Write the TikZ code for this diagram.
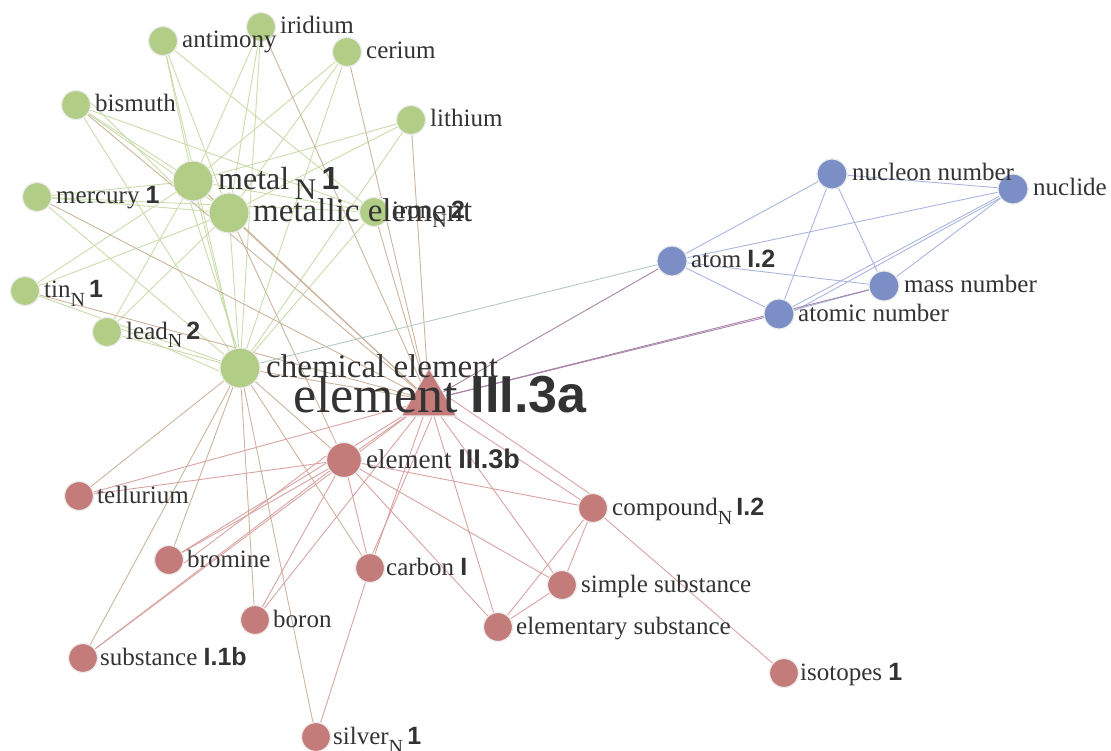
\documentclass[tikz,border=0pt]{standalone}
\usepackage{fontspec}
\setmainfont{Liberation Serif}
\setsansfont{Liberation Sans}
\usetikzlibrary{shapes.geometric,backgrounds}
\definecolor{gfill}{HTML}{B2CD86}
\definecolor{rfill}{HTML}{C47C7A}
\definecolor{bfill}{HTML}{7B8FC6}
\definecolor{gg}{HTML}{C9DCAA}
\definecolor{rr}{HTML}{D9A3A1}
\definecolor{bb}{HTML}{A9B5E0}
\definecolor{gr}{HTML}{CDB49C}
\definecolor{rb}{HTML}{A883A8}
\definecolor{gb}{HTML}{B5C8C8}
\definecolor{txt}{HTML}{333333}
\newcommand{\bnum}[1]{\textsf{\bfseries #1}}
\newcommand{\subN}[1]{\raisebox{-9pt}{\fontsize{#1}{#1}\selectfont N}}
\tikzset{
  nd/.style={circle, inner sep=0pt, draw=black!8, line width=1.2pt},
  gs/.style={nd, fill=gfill, minimum size=29pt},
  gl/.style={nd, fill=gfill, minimum size=40pt},
  rs/.style={nd, fill=rfill, minimum size=29pt},
  rl/.style={nd, fill=rfill, minimum size=35pt},
  bs/.style={nd, fill=bfill, minimum size=30pt},
  lab/.style={anchor=base west, inner sep=0pt, text=txt, font=\fontsize{25}{30}\selectfont},
  labL/.style={anchor=base west, inner sep=0pt, text=txt, font=\fontsize{33}{38}\selectfont},
  edg/.style={line width=0.9pt},
}
\begin{document}
\begin{tikzpicture}[x=1pt,y=-1pt]
\useasboundingbox (0,0) rectangle (1111,751);
% green nodes
\node[gs] (anti) at (163,41) {};
\node[gs] (irid) at (261,27) {};
\node[gs] (ceri) at (347,52) {};
\node[gs] (bism) at (76,105) {};
\node[gs] (lith) at (411,120) {};
\node[gl] (metal) at (193,181) {};
\node[gs] (merc) at (37,197) {};
\node[gl] (metel) at (229,213) {};
\node[gs] (iron) at (374,212) {};
\node[gs] (tin) at (25,291) {};
\node[gs] (lead) at (107,332) {};
\node[gl] (chem) at (240,368) {};
% red nodes
\node[regular polygon, regular polygon sides=3, minimum size=64pt, inner sep=0pt, fill=rfill, draw=black!8, line width=1.2pt] (elA) at (429,400) {};
\node[rl] (elB) at (344,460) {};
\node[rs] (tell) at (79,496) {};
\node[rs] (comp) at (593,508) {};
\node[rs] (brom) at (169,560) {};
\node[rs] (carb) at (370,568) {};
\node[rs] (simp) at (562,585) {};
\node[rs] (boro) at (255,620) {};
\node[rs] (elem) at (498,627) {};
\node[rs] (subs) at (83,658) {};
\node[rs] (isot) at (784,673) {};
\node[rs] (silv) at (316,737) {};
% blue nodes
\node[bs] (nucl) at (832,174) {};
\node[bs] (nuclide) at (1013,189) {};
\node[bs] (atom) at (672,261) {};
\node[bs] (mass) at (884,286) {};
\node[bs] (atno) at (779,314) {};
% edges
\begin{pgfonlayer}{background}
\foreach \a/\b in {anti/metal,anti/metel,anti/chem,anti/iron,irid/metal,irid/metel,irid/chem,
  ceri/metal,ceri/metel,ceri/chem,bism/metal,bism/metel,bism/iron,bism/chem,
  lith/metal,lith/metel,lith/chem,merc/metal,merc/metel,merc/iron,merc/chem,
  tin/metal,tin/metel,tin/chem,lead/metal,lead/metel,lead/chem,
  iron/metal,iron/chem,metal/metel,metal/chem,metel/chem}
  \draw[edg, gg] (\a) -- (\b);
\draw[edg, gg] ([xshift=-3pt]metal.south) -- ([xshift=-3pt]chem.north);
\draw[edg, gg] ([yshift=3pt]lead.east) -- ([yshift=-3pt]chem.west);
\draw[edg, gg] ([yshift=2pt]bism.east) -- ([yshift=-2pt]metal.west);
\foreach \a/\b in {irid/elA,ceri/elA,lith/elA,merc/elA,tin/elA,iron/elA,bism/elA,
  metal/elA,metel/elA,metel/elB,chem/elA,chem/elB,
  chem/tell,chem/brom,chem/boro,chem/silv,chem/carb,chem/subs}
  \draw[edg, gr] (\a) -- (\b);
\foreach \a/\b in {elA/elB,elA/tell,elA/brom,elA/boro,elA/subs,elA/carb,elA/comp,elA/simp,elA/elem,
  elB/tell,elB/brom,elB/boro,elB/subs,elB/carb,elB/comp,elB/simp,elB/elem,
  silv/carb,comp/simp,comp/elem,comp/isot,simp/elem}
  \draw[edg, rr] (\a) -- (\b);
\draw[edg, rr] ([xshift=3pt]elA.south) -- ([xshift=3pt]carb.north);
\draw[edg, rr] ([yshift=3pt]elA.east) -- ([yshift=-3pt]comp.north);
\draw[edg, rr] ([yshift=4pt]elB.west) -- ([yshift=-3pt]brom.east);
\foreach \a/\b in {atom/nucl,atom/nuclide,atom/mass,atom/atno,nucl/nuclide,nucl/mass,nucl/atno,
  nuclide/mass,nuclide/atno,mass/atno}
  \draw[edg, bb] (\a) -- (\b);
\draw[edg, bb] ([yshift=3pt]nuclide.south west) -- ([yshift=3pt]atno.east);
\foreach \a/\b in {elA/atom,elA/atno,elA/mass}
  \draw[edg, rb] (\a) -- (\b);
\draw[edg, gb] (chem) -- (atom);
\end{pgfonlayer}
% labels
\node[lab] (anti-l) at (182,48) {antimony};
\node[lab] (irid-l) at (280,34) {iridium};
\node[lab] (ceri-l) at (366,59) {cerium};
\node[lab] (bism-l) at (95,112) {bismuth};
\node[lab] (lith-l) at (430,127) {lithium};
\node[lab] (merc-l) at (56,204) {mercury \bnum{1}};
\node[lab] (iron-l) at (392,219) {iron\subN{20}\,\bnum{2}};
\node[lab] (tin-l) at (44,298) {tin\subN{20}\,\bnum{1}};
\node[lab] (lead-l) at (126,339) {lead\subN{20}\,\bnum{2}};
\node[labL, font=\fontsize{32}{38}\selectfont] (metal-l) at (218,190) {metal\,\raisebox{-10pt}{\fontsize{30}{30}\selectfont N}\,\bnum{1}};
\node[labL] (metel-l) at (253,222) {metallic element};
\node[labL] (chem-l) at (266,377) {chemical element};
\node[anchor=base west, inner sep=0pt, text=txt, font=\fontsize{52}{60}\selectfont] (elA-l) at (293,412) {element \bnum{III.3a}};
\node[lab, font=\fontsize{27}{32}\selectfont] (elB-l) at (366,468) {element \bnum{III.3b}};
\node[lab] (tell-l) at (97,503) {tellurium};
\node[lab] (comp-l) at (612,515) {compound\subN{20}\,\bnum{I.2}};
\node[lab] (brom-l) at (187,567) {bromine};
\node[lab] (carb-l) at (386,575) {carbon \bnum{I}};
\node[lab] (simp-l) at (581,592) {simple substance};
\node[lab] (boro-l) at (273,627) {boron};
\node[lab] (elem-l) at (516,634) {elementary substance};
\node[lab] (subs-l) at (100,665) {substance \bnum{I.1b}};
\node[lab] (isot-l) at (800,680) {isotopes \bnum{1}};
\node[lab] (silv-l) at (333,744) {silver\subN{20}\,\bnum{1}};
\node[lab] (nucl-l) at (852,181) {nucleon number};
\node[lab] (nuclide-l) at (1033,196) {nuclide};
\node[lab] (atom-l) at (691,268) {atom \bnum{I.2}};
\node[lab] (mass-l) at (904,293) {mass number};
\node[lab] (atno-l) at (798,321) {atomic number};
\end{tikzpicture}
\end{document}
